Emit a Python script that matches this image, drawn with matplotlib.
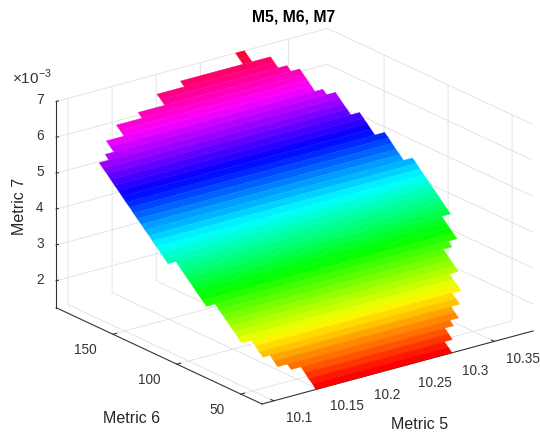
import matplotlib
matplotlib.use("Agg")
import matplotlib.pyplot as plt
from mpl_toolkits.mplot3d import proj3d
from mpl_toolkits.mplot3d.art3d import Poly3DCollection

plt.rcParams['font.family'] = ['Liberation Sans', 'DejaVu Sans']
plt.rcParams['mathtext.fontset'] = 'custom'
plt.rcParams['mathtext.rm'] = 'Liberation Sans'

metric6_edges = [33.5,36.5,39.5,42.4,45.4,48.4,51.4,54.3,57.3,60.3,63.3,66.3,69.2,72.2,75.2,78.2,81.1,84.1,87.1,
                 90.1,93.1,96.0,99.0,102.0,105.0,107.9,110.9,113.9,116.9,119.9,122.8,125.8,128.8,131.8,134.8,
                 137.7,140.7,143.7,146.7,149.6,152.6,155.6,158.6,161.6,164.5,167.5,170.5,173.5,176.4,179.4,
                 182.4,185.4,188.4,191.3,194.3]
metric7_edges = [1.25,1.36,1.46,1.57,1.68,1.78,1.89,2.00,2.10,2.21,2.32,2.42,2.53,2.63,2.74,2.85,2.95,3.06,3.17,
                 3.27,3.38,3.49,3.59,3.70,3.81,3.91,4.02,4.13,4.23,4.34,4.45,4.55,4.66,4.76,4.87,4.98,5.08,5.19,
                 5.30,5.40,5.51,5.62,5.72,5.83,5.94,6.04,6.15,6.26,6.36,6.47,6.58,6.68,6.79,6.89,7.00]
metric5_left = [10.148,10.148,10.148,10.148,10.137,10.126,10.126,10.118,10.118,10.118,
                10.107,10.107,10.107,10.107,10.107,10.107,10.107,
                10.097,10.097,10.097,10.097,10.097,10.097,10.097,10.097,
                10.088,10.088,10.088,10.088,10.088,10.088,10.088,10.088,10.088,
                10.088,10.088,10.088,10.088,10.088,10.088,10.088,10.088,10.088,
                10.099,10.109,10.109,10.129,10.129,10.158,10.188,10.188,10.219,10.290,10.290]
metric5_right = [10.302,10.302,10.311,10.311,10.321,10.331,10.331,10.341,10.341,
                 10.351,10.351,10.351,10.361,10.361,10.361,10.361,10.371,
                 10.381,10.381,10.381,10.381,
                 10.391,10.391,10.391,10.391,10.391,10.391,10.391,10.391,10.391,10.391,
                 10.381,10.381,10.381,10.381,10.381,10.370,10.370,10.370,10.370,
                 10.360,10.360,10.360,10.360,10.350,10.341,10.341,10.341,10.341,10.331,
                 10.321,10.321,10.300,10.300]
x_ticks = [10.1,10.15,10.2,10.25,10.3,10.35]
x_ticklabels = ['10.1','10.15','10.2','10.25','10.3','10.35']
y_ticks = [50,100,150]
y_ticklabels = ['50','100','150']
z_ticks = [2,3,4,5,6,7]
z_ticklabels = ['2','3','4','5','6','7']
XLIM = (10.0866,10.394); YLIM = (33.5,194.3); ZLIM = (1.25,7.0)

W,H = 540,435
fig = plt.figure(figsize=(W/100,H/100),dpi=100)
ax = fig.add_axes([0.05,0.02,0.9,0.9],projection='3d',proj_type='ortho')
ax.view_init(elev=20.8,azim=-127.2)
ax.set_xlim(XLIM); ax.set_ylim(YLIM); ax.set_zlim(ZLIM)
ASPECT=(1,1,0.648)
ax.set_box_aspect(ASPECT)

cmap = plt.get_cmap('hsv')
polys=[];cols=[]
for k in range(len(metric5_left)):
    xl,xr = metric5_left[k],metric5_right[k]
    y0,y1 = metric6_edges[k],metric6_edges[k+1]
    z0,z1 = metric7_edges[k],metric7_edges[k+1]
    polys.append([(xl,y0,z0),(xr,y0,z0),(xr,y1,z1),(xl,y1,z1)])
    cols.append(cmap((z0-ZLIM[0])/(ZLIM[1]-ZLIM[0])))
pc = Poly3DCollection(polys,facecolors=cols,edgecolors=cols,linewidths=0.3,shade=False)
ax.add_collection3d(pc)

ax.set_xticks(x_ticks); ax.set_yticks(y_ticks); ax.set_zticks(z_ticks)
ax.set_xticklabels([]); ax.set_yticklabels([]); ax.set_zticklabels([])
ax.patch.set_alpha(0)
for a,of in ((ax.xaxis,0.17),(ax.yaxis,0.17),(ax.zaxis,0.1)):
    a.set_pane_color((1,1,1,0))
    a.pane.set_edgecolor((1,1,1,0))
    a._axinfo['grid'].update(color=(0.88,0.88,0.88,1),linewidth=0.6)
    a._axinfo['axisline']['color']=(0.2,0.2,0.2,1)
    a._axinfo['axisline']['linewidth']=0.7
    a._axinfo['tick']['inward_factor']=0.0
    a._axinfo['tick']['outward_factor']=of
    a.line.set_color((0.2,0.2,0.2,1)); a.line.set_linewidth(0.8)
ax.tick_params(axis='both',colors=(0.2,0.2,0.2),width=0.6)
ax.tick_params(axis='z',colors=(0.2,0.2,0.2),width=0.6)

def corner(x,y,z):
    X,Y,_ = proj3d.proj_transform(x,y,z,ax.get_proj())
    return ax.transData.transform((X,Y))

ax.apply_aspect()
p1=corner(XLIM[0],YLIM[1],ZLIM[0]); p2=corner(XLIM[1],YLIM[0],ZLIM[0])
ax.set_box_aspect(ASPECT,zoom=477/(p2[0]-p1[0]))
ax.apply_aspect()
p0=corner(XLIM[0],YLIM[0],ZLIM[0])
pos=ax.get_position(original=True)
ax.set_position([pos.x0+(262-p0[0])/W,pos.y0+((H-405)-p0[1])/H,pos.width,pos.height])
ax.apply_aspect()

TICK_STYLE = dict(fontsize=9.8,color=(0.2,0.2,0.2),va='center')
def tick_label(point,text,ha,dx,dy):
    px,py = corner(*point)
    fig.text((px+dx)/W,(py-dy)/H,text,ha=ha,**TICK_STYLE)
for v,t in zip(x_ticks,x_ticklabels):
    tick_label((v,YLIM[0],ZLIM[0]),t,'left',12,16.5)
for v,t in zip(y_ticks,y_ticklabels):
    tick_label((XLIM[0],v,ZLIM[0]),t,'right',-16.5,14.5)
for v,t in zip(z_ticks,z_ticklabels):
    tick_label((XLIM[0],YLIM[1],v),t,'right',-12.5,-2)

fig.text(294/W,1-16.5/H,'M5, M6, M7',ha='center',va='center',fontweight='bold',fontsize=11.3,color='black')
fig.text(20/W,1-206/H,'Metric 7',rotation=90,ha='center',va='center',fontsize=11.5,color=(0.15,0.15,0.15))
fig.text(132/W,1-419/H,'Metric 6',ha='center',va='center',fontsize=11.5,color=(0.15,0.15,0.15))
fig.text(420/W,1-425/H,'Metric 5',ha='center',va='center',fontsize=11.5,color=(0.15,0.15,0.15))
fig.text(12/W,1-77/H,r'$\times$10$^{-3}$',ha='left',va='center',fontsize=11,color=(0.2,0.2,0.2))
fig.savefig('out.png',dpi=100)
